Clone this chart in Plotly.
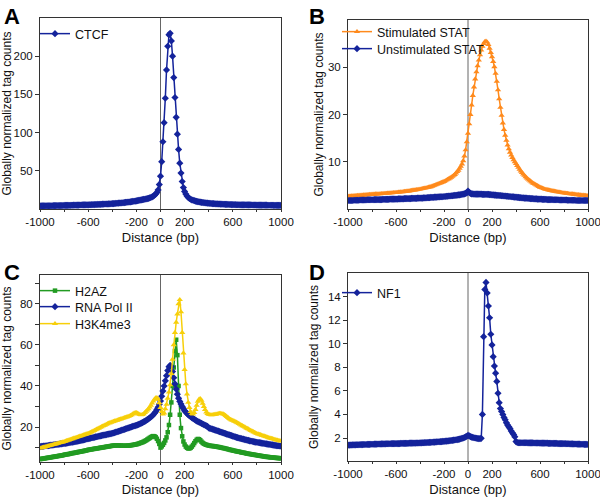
import plotly.graph_objects as go

# distance from binding site (bp), 10 bp bins
distance = list(range(-1000, 1001, 10))

ctcf = [
    4.0, 4.0, 4.1, 4.1, 4.1, 4.2, 4.2, 4.2, 4.3, 4.3, 4.3, 4.4, 4.4, 4.4, 4.5, 4.5, 4.5, 4.6, 4.6, 4.6,
    4.7, 4.7, 4.7, 4.8, 4.8, 4.8, 4.9, 4.9, 5.0, 5.0, 5.0, 5.1, 5.1, 5.2, 5.2, 5.3, 5.3, 5.4, 5.4, 5.5,
    5.5, 5.6, 5.6, 5.7, 5.7, 5.8, 5.9, 5.9, 6.0, 6.1, 6.1, 6.2, 6.3, 6.4, 6.5, 6.5, 6.6, 6.7, 6.8, 6.9,
    7.0, 7.1, 7.2, 7.4, 7.5, 7.6, 7.8, 7.9, 8.1, 8.2, 8.4, 8.6, 8.8, 9.0, 9.2, 9.4, 9.6, 9.9, 10.1, 10.4,
    10.7, 11.0, 11.3, 11.6, 11.9, 12.2, 12.5, 12.8, 13.2, 13.6, 14.0, 14.5, 15.0, 15.8, 16.8, 18.0, 19.5, 21.5, 25, 32,
    43, 62, 88, 113, 145, 182, 213, 228, 230, 220, 200, 172, 146, 120, 98, 78, 60, 47, 36, 28,
    23, 19.5, 17, 15.2, 13.8, 12.8, 12.0, 11.4, 10.9, 10.4, 10.0, 9.6, 9.3, 9.0, 8.7, 8.5, 8.3, 8.1, 7.9, 7.7,
    7.5, 7.4, 7.2, 7.1, 7.0, 6.9, 6.8, 6.7, 6.6, 6.5, 6.4, 6.3, 6.2, 6.2, 6.1, 6.0, 6.0, 5.9, 5.9, 5.8,
    5.8, 5.7, 5.7, 5.6, 5.6, 5.6, 5.5, 5.5, 5.5, 5.4, 5.4, 5.4, 5.3, 5.3, 5.3, 5.3, 5.2, 5.2, 5.2, 5.2,
    5.1, 5.1, 5.1, 5.1, 5.0, 5.0, 5.0, 5.0, 5.0, 4.9, 4.9, 4.9, 4.9, 4.9, 4.8, 4.8, 4.8, 4.8, 4.8, 4.8,
    4.7,
]

stat_stim = [
    2.7, 2.7, 2.7, 2.75, 2.75, 2.8, 2.8, 2.8, 2.85, 2.85, 2.9, 2.9, 2.9, 2.95, 2.95, 3.0, 3.0, 3.0, 3.05, 3.05,
    3.1, 3.1, 3.1, 3.15, 3.15, 3.2, 3.2, 3.2, 3.25, 3.25, 3.3, 3.3, 3.3, 3.35, 3.35, 3.4, 3.4, 3.4, 3.45, 3.45,
    3.5, 3.5, 3.55, 3.55, 3.6, 3.6, 3.65, 3.7, 3.7, 3.75, 3.8, 3.8, 3.85, 3.9, 3.95, 4.0, 4.0, 4.05, 4.1, 4.15,
    4.2, 4.25, 4.3, 4.35, 4.4, 4.45, 4.5, 4.6, 4.65, 4.7, 4.8, 4.9, 5.0, 5.1, 5.2, 5.3, 5.4, 5.5, 5.6, 5.7,
    5.8, 5.95, 6.1, 6.25, 6.4, 6.55, 6.7, 6.9, 7.1, 7.3, 7.6, 7.9, 8.2, 8.6, 9.0, 9.5, 10.2, 11.2, 12.5, 14.2,
    16.0, 18.0, 20.0, 22.0, 24.0, 25.8, 27.5, 29.0, 30.3, 31.5, 32.6, 33.6, 34.4, 35.0, 35.4, 35.5, 35.3, 34.8, 34.0, 33.1,
    32.2, 31.2, 30.1, 28.7, 27.0, 25.2, 23.3, 21.5, 19.8, 18.2, 16.8, 15.6, 14.5, 13.5, 12.7, 12.0, 11.4, 10.9, 10.4, 10.0,
    9.6, 9.2, 8.8, 8.4, 8.0, 7.7, 7.4, 7.1, 6.8, 6.55, 6.3, 6.1, 5.9, 5.7, 5.5, 5.35, 5.2, 5.05, 4.9, 4.75,
    4.6, 4.5, 4.4, 4.3, 4.2, 4.15, 4.1, 4.0, 3.95, 3.9, 3.85, 3.8, 3.75, 3.7, 3.65, 3.6, 3.55, 3.5, 3.45, 3.4,
    3.4, 3.35, 3.3, 3.3, 3.25, 3.2, 3.2, 3.15, 3.1, 3.1, 3.05, 3.0, 3.0, 2.95, 2.95, 2.9, 2.9, 2.85, 2.85, 2.8,
    2.8,
]

stat_unstim = [
    1.8, 1.8, 1.8, 1.8, 1.8, 1.85, 1.85, 1.85, 1.85, 1.85, 1.9, 1.9, 1.9, 1.9, 1.9, 1.9, 1.95, 1.95, 1.95, 1.95,
    1.95, 1.95, 2.0, 2.0, 2.0, 2.0, 2.0, 2.0, 2.0, 2.05, 2.05, 2.05, 2.05, 2.05, 2.05, 2.1, 2.1, 2.1, 2.1, 2.1,
    2.1, 2.1, 2.15, 2.15, 2.15, 2.15, 2.15, 2.2, 2.2, 2.2, 2.2, 2.2, 2.2, 2.25, 2.25, 2.25, 2.25, 2.25, 2.3, 2.3,
    2.3, 2.3, 2.3, 2.35, 2.35, 2.35, 2.4, 2.4, 2.4, 2.45, 2.45, 2.45, 2.5, 2.5, 2.5, 2.55, 2.55, 2.6, 2.6, 2.6,
    2.65, 2.65, 2.7, 2.7, 2.75, 2.75, 2.8, 2.8, 2.85, 2.9, 2.9, 2.95, 3.0, 3.0, 3.05, 3.1, 3.15, 3.2, 3.3, 3.4,
    3.8, 3.5, 3.3, 3.2, 3.2, 3.15, 3.15, 3.15, 3.15, 3.15, 3.15, 3.15, 3.1, 3.1, 3.1, 3.1, 3.1, 3.1, 3.05, 3.05,
    3.0, 3.0, 2.95, 2.95, 2.9, 2.9, 2.85, 2.85, 2.8, 2.8, 2.75, 2.75, 2.7, 2.7, 2.65, 2.65, 2.6, 2.6, 2.55, 2.5,
    2.5, 2.45, 2.45, 2.4, 2.4, 2.35, 2.35, 2.3, 2.3, 2.3, 2.25, 2.25, 2.2, 2.2, 2.2, 2.15, 2.15, 2.15, 2.1, 2.1,
    2.1, 2.1, 2.05, 2.05, 2.05, 2.05, 2.0, 2.0, 2.0, 2.0, 2.0, 1.95, 1.95, 1.95, 1.95, 1.95, 1.9, 1.9, 1.9, 1.9,
    1.9, 1.9, 1.9, 1.85, 1.85, 1.85, 1.85, 1.85, 1.85, 1.85, 1.8, 1.8, 1.8, 1.8, 1.8, 1.8, 1.8, 1.8, 1.8, 1.8,
    1.8,
]

h2az = [
    4.4, 4.5, 4.6, 4.7, 4.8, 4.9, 5.0, 5.1, 5.2, 5.3, 5.4, 5.5, 5.6, 5.7, 5.8, 5.9, 6.0, 6.1, 6.2, 6.3,
    6.5, 6.6, 6.7, 6.8, 6.9, 7.0, 7.2, 7.3, 7.4, 7.5, 7.6, 7.7, 7.9, 8.0, 8.1, 8.2, 8.3, 8.5, 8.6, 8.7,
    8.9, 9.0, 9.1, 9.2, 9.3, 9.4, 9.5, 9.6, 9.7, 9.8, 9.9, 10.0, 10.1, 10.2, 10.3, 10.4, 10.5, 10.6, 10.7, 10.8,
    10.9, 11.0, 11.0, 11.1, 11.1, 11.1, 11.0, 11.0, 10.9, 10.9, 10.9, 10.9, 10.9, 11.0, 11.0, 11.1, 11.2, 11.3, 11.4, 11.5,
    11.6, 11.8, 12.0, 12.2, 12.4, 12.6, 12.9, 13.2, 13.5, 13.9, 14.3, 14.7, 15.1, 15.4, 15.6, 15.5, 15.1, 14.3, 13.2, 11.8,
    10.0, 10.6, 11.4, 12.3, 13.5, 15.0, 17.5, 21, 26, 32, 40, 49, 57, 62.5, 55, 40, 26, 19.5, 15.5, 13,
    11.5, 10.5, 9.9, 9.6, 9.6, 9.9, 10.5, 11.3, 12.2, 13.1, 13.8, 14.2, 14.1, 13.6, 12.9, 12.3, 11.9, 11.6, 11.4, 11.2,
    11.0, 10.9, 10.8, 10.8, 10.7, 10.6, 10.5, 10.4, 10.3, 10.2, 10.0, 9.9, 9.8, 9.7, 9.5, 9.4, 9.2, 9.1, 8.9, 8.8,
    8.6, 8.5, 8.4, 8.2, 8.1, 8.0, 7.9, 7.7, 7.6, 7.5, 7.4, 7.2, 7.1, 7.0, 6.9, 6.8, 6.7, 6.6, 6.5, 6.4,
    6.3, 6.2, 6.1, 6.0, 5.9, 5.8, 5.7, 5.6, 5.5, 5.45, 5.4, 5.3, 5.25, 5.2, 5.1, 5.05, 5.0, 4.95, 4.9, 4.85,
    4.8,
]

rna_pol2 = [
    10.5, 10.6, 10.6, 10.7, 10.8, 10.9, 10.9, 11.0, 11.1, 11.2, 11.2, 11.3, 11.4, 11.5, 11.5, 11.6, 11.7, 11.8, 11.8, 11.9,
    12.0, 12.1, 12.2, 12.3, 12.4, 12.5, 12.6, 12.7, 12.8, 12.9, 13.0, 13.1, 13.2, 13.4, 13.5, 13.6, 13.8, 13.9, 14.1, 14.2,
    14.4, 14.5, 14.6, 14.8, 14.9, 15.0, 15.2, 15.3, 15.4, 15.6, 15.7, 15.8, 16.0, 16.1, 16.2, 16.3, 16.5, 16.6, 16.7, 16.8,
    17.0, 17.1, 17.3, 17.5, 17.7, 17.9, 18.1, 18.3, 18.5, 18.7, 18.9, 19.1, 19.3, 19.5, 19.7, 19.9, 20.1, 20.3, 20.5, 20.7,
    20.9, 21.1, 21.3, 21.6, 21.9, 22.2, 22.5, 22.8, 23.2, 23.6, 24.0, 24.4, 24.9, 25.4, 26.0, 26.7, 27.5, 28.5, 29.7, 31.1,
    32.7, 35, 37.5, 40, 42.5, 45, 47.5, 49.3, 50, 49.3, 47, 44, 41, 38.5, 36, 34, 32.5, 31.2, 30.0, 29.0,
    28.0, 27.3, 26.6, 26.0, 25.5, 25.0, 24.6, 24.2, 23.8, 23.4, 23.0, 22.7, 22.4, 22.1, 21.8, 21.5, 21.2, 20.9, 20.6, 20.3,
    19.6, 19.4, 19.2, 19.0, 18.8, 18.6, 18.4, 18.2, 18.0, 17.8, 17.6, 17.4, 17.2, 17.0, 16.8, 16.6, 16.4, 16.2, 16.0, 15.8,
    15.6, 15.4, 15.2, 15.0, 14.9, 14.7, 14.5, 14.4, 14.2, 14.1, 13.9, 13.8, 13.6, 13.5, 13.3, 13.2, 13.1, 12.9, 12.8, 12.7,
    12.6, 12.5, 12.4, 12.3, 12.2, 12.1, 12.0, 11.9, 11.8, 11.7, 11.6, 11.5, 11.4, 11.3, 11.2, 11.1, 11.0, 10.9, 10.9, 10.8,
    10.7,
]

h3k4me3 = [
    9.7, 9.85, 10.0, 10.15, 10.3, 10.5, 10.65, 10.8, 10.95, 11.1, 11.3, 11.45, 11.6, 11.75, 11.9, 12.1, 12.25, 12.4, 12.55, 12.7,
    12.9, 13.1, 13.3, 13.5, 13.7, 13.9, 14.1, 14.3, 14.5, 14.7, 14.9, 15.1, 15.3, 15.5, 15.7, 15.9, 16.1, 16.3, 16.5, 16.7,
    16.9, 17.1, 17.4, 17.7, 18.0, 18.3, 18.6, 18.9, 19.2, 19.5, 19.8, 20.1, 20.4, 20.7, 21.0, 21.3, 21.6, 21.9, 22.1, 22.3,
    22.5, 22.7, 22.9, 23.1, 23.3, 23.5, 23.7, 23.9, 24.1, 24.3, 24.5, 24.7, 24.9, 25.1, 25.3, 25.6, 25.9, 26.3, 26.7, 27.0,
    27.0, 26.7, 26.3, 26.0, 25.9, 26.0, 26.4, 27.0, 27.6, 28.2, 28.9, 29.7, 30.6, 31.6, 32.6, 33.5, 34.2, 34.3, 33.6, 31.8,
    29.5, 27.5, 26.3, 26.8, 28.8, 31, 34, 37, 40.5, 46, 53, 60, 66, 71, 75, 80, 82, 76, 66, 56,
    48, 41, 36, 32, 29.5, 27.5, 26.5, 26.3, 27, 28.5, 30.5, 32.5, 33.5, 33.8, 33, 31.5, 30, 28.5, 27.3, 26.6,
    26.2, 26.0, 25.9, 25.9, 26.0, 26.1, 26.2, 26.4, 26.5, 26.6, 26.6, 26.5, 26.3, 26.0, 25.6, 25.1, 24.6, 24.1, 23.7, 23.4,
    23.2, 22.9, 22.6, 22.3, 22.0, 21.7, 21.3, 20.9, 20.6, 20.3, 20.0, 19.6, 19.3, 19.0, 18.6, 18.3, 18.0, 17.7, 17.4, 17.1,
    16.8, 16.6, 16.4, 16.2, 16.0, 15.8, 15.6, 15.4, 15.2, 15.0, 14.8, 14.6, 14.4, 14.3, 14.1, 13.9, 13.7, 13.6, 13.4, 13.3,
    13.2,
]

nf1 = [
    1.40, 1.40, 1.41, 1.41, 1.42, 1.42, 1.42, 1.43, 1.43, 1.43, 1.44, 1.44, 1.44, 1.45, 1.45, 1.45, 1.46, 1.46, 1.46, 1.47,
    1.47, 1.47, 1.48, 1.48, 1.48, 1.49, 1.49, 1.49, 1.50, 1.50, 1.50, 1.50, 1.51, 1.51, 1.51, 1.51, 1.52, 1.52, 1.52, 1.52,
    1.53, 1.53, 1.53, 1.53, 1.54, 1.54, 1.54, 1.54, 1.55, 1.55, 1.55, 1.56, 1.56, 1.56, 1.57, 1.57, 1.57, 1.58, 1.58, 1.58,
    1.59, 1.59, 1.60, 1.60, 1.61, 1.61, 1.62, 1.62, 1.63, 1.63, 1.64, 1.65, 1.65, 1.66, 1.67, 1.68, 1.68, 1.69, 1.70, 1.71,
    1.72, 1.73, 1.74, 1.75, 1.76, 1.78, 1.79, 1.80, 1.82, 1.83, 1.85, 1.87, 1.89, 1.91, 1.94, 1.97, 2.00, 2.04, 2.09, 2.15,
    2.22, 2.18, 2.12, 2.08, 2.05, 2.02, 2.00, 1.98, 1.96, 1.95, 1.95, 1.97, 4.0, 10.6, 14.6, 15.2, 14.3, 13.2, 12.2, 10.8,
    9.9, 8.9, 8.1, 7.5, 6.8, 5.8, 5.0, 4.5, 4.25, 4.0, 3.75, 3.55, 3.3, 3.1, 2.95, 2.8, 2.6, 2.45, 2.3, 2.1,
    1.7, 1.62, 1.6, 1.6, 1.6, 1.6, 1.6, 1.6, 1.6, 1.6, 1.59, 1.59, 1.59, 1.59, 1.59, 1.58, 1.58, 1.58, 1.58, 1.58,
    1.57, 1.57, 1.57, 1.56, 1.56, 1.56, 1.56, 1.55, 1.55, 1.55, 1.55, 1.54, 1.54, 1.54, 1.54, 1.53, 1.53, 1.53, 1.53, 1.52,
    1.52, 1.52, 1.51, 1.51, 1.51, 1.50, 1.50, 1.50, 1.49, 1.49, 1.49, 1.48, 1.48, 1.48, 1.47, 1.47, 1.47, 1.46, 1.46, 1.46,
    1.45,
]

x_tickvals = [-1000, -800, -600, -400, -200, 0, 200, 400, 600, 800, 1000]
x_ticktext = ["-1000", "", "-600", "", "-200", "0", "200", "", "600", "", "1000"]

NAVY = "#14239b"
ORANGE = "#ff8a1c"
GREEN = "#229b22"
YELLOW = "#f7cf0a"
FONT = "Liberation Sans, Arial, sans-serif"
W, H = 600, 497

fig = go.Figure()

# (values, name, colour, marker, x axis, y axis, legend id, legend x px, legend y px, marker size)
series = [
    (ctcf, "CTCF", NAVY, "diamond", "x", "y", "legend", 35, 34, 5.5),
    (stat_stim, "Stimulated STAT", ORANGE, "triangle-up", "x2", "y2", "legend2", 337, 32, 5.5),
    (stat_unstim, "Unstimulated STAT", NAVY, "diamond", "x2", "y2", "legend3", 337, 49, 5.5),
    (h2az, "H2AZ", GREEN, "square", "x3", "y3", "legend4", 35, 291, 4.5),
    (rna_pol2, "RNA Pol II", NAVY, "diamond", "x3", "y3", "legend5", 35, 307, 5.5),
    (h3k4me3, "H3K4me3", YELLOW, "triangle-up", "x3", "y3", "legend6", 35, 324, 5.5),
    (nf1, "NF1", NAVY, "diamond", "x4", "y4", "legend7", 337, 293, 5.5),
]

legend_layouts = {}
for y, name, color, symbol, xa, ya, leg, lx, ly, msize in series:
    fig.add_trace(go.Scatter(
        x=distance, y=y, name=name, mode="lines+markers",
        line=dict(color=color, width=1.5),
        marker=dict(color=color, symbol=symbol, size=msize),
        xaxis=xa, yaxis=ya, legend=leg, showlegend=True,
    ))
    legend_layouts[leg] = dict(
        bgcolor="rgba(0,0,0,0)", borderwidth=0,
        font=dict(size=12.5, color="#111111", family=FONT),
        xanchor="left", yanchor="middle", x=lx / W, y=1 - ly / H,
        itemwidth=30,
    )


def px_x(a, b):
    return [a / W, b / W]


def px_y(top, bottom):
    return [1 - bottom / H, 1 - top / H]


axis_common = dict(
    showline=True, mirror=True, linecolor="#333333", linewidth=1,
    ticks="outside", ticklen=4, tickcolor="#333333", showgrid=False,
    zeroline=False, automargin=False, ticklabeloverflow="allow",
    tickfont=dict(size=11.5, color="#111111", family=FONT),
)

xcommon = dict(axis_common, range=[-1000, 1000], tickvals=x_tickvals, ticktext=x_ticktext, ticklen=2,
               title=dict(text="Distance (bp)", font=dict(size=13, color="#111111", family=FONT), standoff=6))


def ytitle(standoff):
    return dict(text="Globally normalized tag counts", font=dict(size=12, color="#111111", family=FONT),
                standoff=standoff)


layout = dict(
    width=W, height=H, margin=dict(l=0, r=0, t=0, b=0, autoexpand=False),
    paper_bgcolor="white", plot_bgcolor="white", showlegend=True,
    font=dict(family=FONT, color="#111111"),
    xaxis=dict(xcommon, domain=px_x(40, 281), anchor="y"),
    yaxis=dict(axis_common, domain=px_y(18, 209), anchor="x", range=[0, 250],
               tickvals=[50, 100, 150, 200], title=ytitle(5)),
    xaxis2=dict(xcommon, domain=px_x(348, 588), anchor="y2"),
    yaxis2=dict(axis_common, domain=px_y(20, 209), anchor="x2", range=[0, 40],
                tickvals=[10, 20, 30], title=ytitle(1)),
    xaxis3=dict(xcommon, domain=px_x(40, 281), anchor="y3"),
    yaxis3=dict(axis_common, domain=px_y(275, 462), anchor="x3", range=[3, 94],
                tickvals=[10, 20, 30, 40, 50, 60, 70, 80, 90],
                ticktext=["", "20", "", "40", "", "60", "", "80", ""],
                title=ytitle(12)),
    xaxis4=dict(xcommon, domain=px_x(348, 588), anchor="y4"),
    yaxis4=dict(axis_common, domain=px_y(273, 461), anchor="x4", range=[0.05, 16],
                tickvals=[2, 4, 6, 8, 10, 12, 14], title=ytitle(6)),
    **legend_layouts,
)

fig.update_layout(**layout)

# vertical reference line at distance 0
for xa, ya in [("x", "y"), ("x2", "y2"), ("x3", "y3"), ("x4", "y4")]:
    fig.add_shape(type="line", xref=xa, yref=f"{ya} domain", x0=0, x1=0, y0=0, y1=1,
                  line=dict(color="#666666", width=1), layer="below")

# panel letters
for letter, xp, yp in [("A", 2, 2), ("B", 307, 2), ("C", 2, 258), ("D", 307, 258)]:
    fig.add_annotation(text=f"<b>{letter}</b>", x=xp / W, y=1 - yp / H, xref="paper", yref="paper",
                       xanchor="left", yanchor="top", showarrow=False,
                       font=dict(size=22, color="black", family=FONT))

fig.write_html("out.html", config={"displayModeBar": False},
               post_script="document.body.style.margin='0px';")
